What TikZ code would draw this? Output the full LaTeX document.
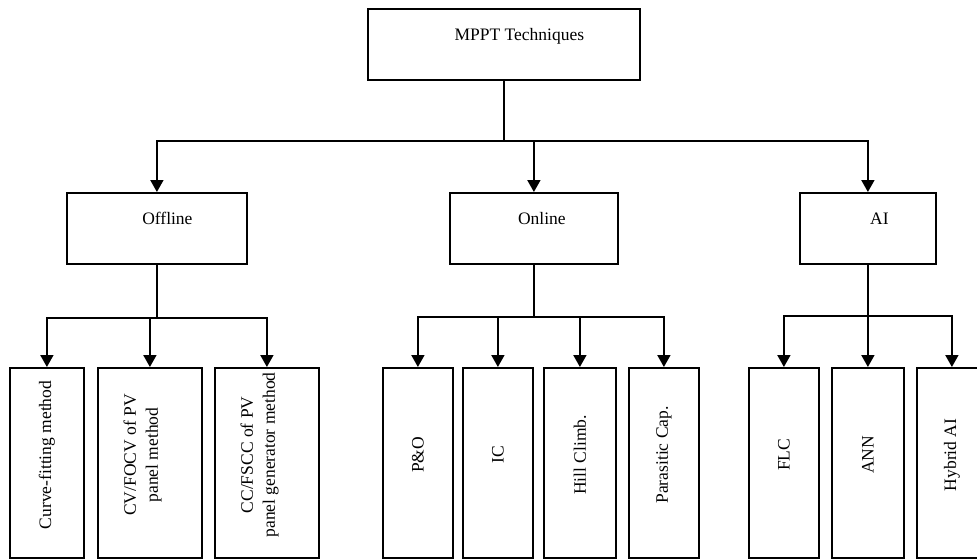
\documentclass[tikz,border=0pt]{standalone}
\usepackage{fontspec}
\setmainfont{Liberation Serif}
\usepackage{tikz}
\usetikzlibrary{arrows.meta}

\newcommand{\vlabel}[1]{\rotatebox{90}{\hspace*{16pt}#1}}
\newcommand{\vlabeltwo}[2]{\rotatebox{90}{\hspace*{16pt}\begin{tabular}{@{}c@{}}#1\\#2\end{tabular}}\hspace*{15pt}}

\tikzset{
  box/.style={draw, line width=1.8pt, inner sep=0pt, anchor=north west},
  headbox/.style={box, text height=32pt, text depth=39pt},
  leafbox/.style={box, minimum height=190pt},
  link/.style={line width=1.8pt},
  arr/.style={link, -{Triangle[length=12pt,width=13pt]}}
}

\begin{document}
\begin{tikzpicture}[x=1pt,y=-1pt,font=\fontsize{17.5}{22}\selectfont]
\useasboundingbox (0,0) rectangle (977,558);
\clip (0,0) rectangle (977,558);
% top and middle level
\node[headbox, minimum width=272pt] (mppt) at (367,8) {\hspace*{31pt}MPPT Techniques};
\node[headbox, minimum width=180pt] (offline) at (66,192) {\hspace*{21pt}Offline};
\node[headbox, minimum width=168pt] (online) at (449,192) {\hspace*{16pt}Online};
\node[headbox, minimum width=136pt] (ai) at (799,192) {\hspace*{23pt}AI};
% offline methods
\node[leafbox, minimum width=74pt] (c1) at (9,367) {\vlabel{Curve-fitting method}};
\node[leafbox, minimum width=104pt] (c2) at (97,367) {\vlabeltwo{CV/FOCV of PV}{panel method}};
\node[leafbox, minimum width=104pt] (c3) at (214,367) {\vlabeltwo{CC/FSCC of PV}{panel generator method}};
% online methods
\node[leafbox, minimum width=70pt] (o1) at (382,367) {\vlabel{P\&O}};
\node[leafbox, minimum width=70pt] (o2) at (462,367) {\vlabel{IC}};
\node[leafbox, minimum width=72pt] (o3) at (543,367) {\vlabel{Hill Climb.}};
\node[leafbox, minimum width=70pt] (o4) at (628,367) {\vlabel{Parasitic Cap.}};
% AI methods
\node[leafbox, minimum width=70pt] (a1) at (748,367) {\vlabel{FLC}};
\node[leafbox, minimum width=72pt] (a2) at (831,367) {\vlabel{ANN}};
\node[leafbox, minimum width=70pt] (a3) at (916,367) {\vlabel{Hybrid AI}};

\draw[link] (mppt.south) -- ++(0,60) coordinate (J0);
\foreach \n in {offline,online,ai}
  \draw[arr] (J0) -| (\n.north);

\draw[link] (offline.south) -- ++(0,53) coordinate (J1);
\foreach \n in {c1,c2,c3}
  \draw[arr] (J1) -| (\n.north);

\draw[link] (online.south) -- ++(0,52) coordinate (J2);
\foreach \n in {o1,o2,o3,o4}
  \draw[arr] (J2) -| (\n.north);

\draw[link] (ai.south) -- ++(0,51) coordinate (J3);
\foreach \n in {a1,a2,a3}
  \draw[arr] (J3) -| (\n.north);
\end{tikzpicture}
\end{document}
